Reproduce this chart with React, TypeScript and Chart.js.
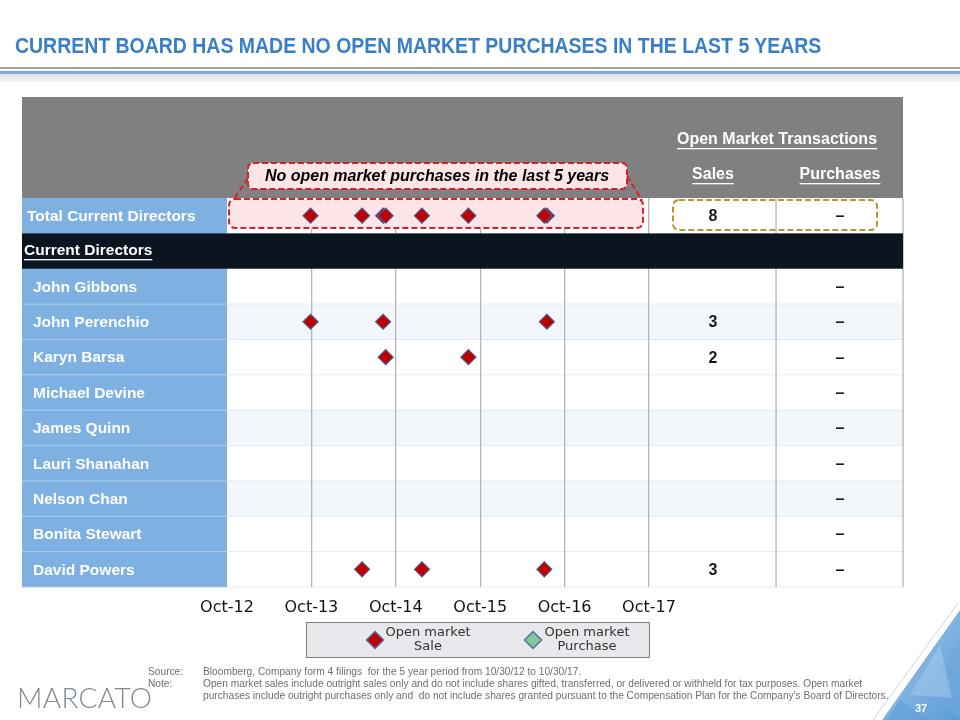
import React, { useEffect, useRef } from "react";
import { Chart, registerables } from "chart.js";

Chart.register(...registerables);

// ---------- data ----------
const TICK_LABELS = ["Oct-12", "Oct-13", "Oct-14", "Oct-15", "Oct-16", "Oct-17"];
const TOTAL_LABEL = "Total Current Directors";
const SECTION_LABEL = "Current Directors";
const DIRECTORS = [
  "John Gibbons",
  "John Perenchio",
  "Karyn Barsa",
  "Michael Devine",
  "James Quinn",
  "Lauri Shanahan",
  "Nelson Chan",
  "Bonita Stewart",
  "David Powers",
];
// open market sale dates, in years after Oct-12
const SALES_GIBBONS: number[] = [];
const SALES_PERENCHIO = [0.99, 1.85, 3.79];
const SALES_BARSA = [1.88, 2.86];
const SALES_DEVINE: number[] = [];
const SALES_QUINN: number[] = [];
const SALES_SHANAHAN: number[] = [];
const SALES_CHAN: number[] = [];
const SALES_STEWART: number[] = [];
const SALES_POWERS = [1.6, 2.31, 3.76];
// open market purchases: none
const PURCHASES: number[] = [];
const SHADED_ROWS = ["John Perenchio", "James Quinn", "Nelson Chan"];
const LEGEND_SALE = ["Open market", "Sale"];
const LEGEND_PURCHASE = ["Open market", "Purchase"];
const CALLOUT_TEXT = "No open market purchases in the last 5 years";

const SALES_BY_DIRECTOR: number[][] = [
  SALES_GIBBONS,
  SALES_PERENCHIO,
  SALES_BARSA,
  SALES_DEVINE,
  SALES_QUINN,
  SALES_SHANAHAN,
  SALES_CHAN,
  SALES_STEWART,
  SALES_POWERS,
];
const ROW_LABELS = [TOTAL_LABEL, SECTION_LABEL, ...DIRECTORS];
const ALL_SALES = SALES_BY_DIRECTOR.flat();

const SALE_COLOR = "#c00000";
const PURCHASE_COLOR = "#86c79a";
const MARKER_BORDER = "#4a5a8c";

function roundRect(ctx: CanvasRenderingContext2D, x: number, y: number, w: number, h: number, r: number) {
  ctx.beginPath();
  ctx.moveTo(x + r, y);
  ctx.lineTo(x + w - r, y);
  ctx.arcTo(x + w, y, x + w, y + r, r);
  ctx.lineTo(x + w, y + h - r);
  ctx.arcTo(x + w, y + h, x + w - r, y + h, r);
  ctx.lineTo(x + r, y + h);
  ctx.arcTo(x, y + h, x, y + h - r, r);
  ctx.lineTo(x, y + r);
  ctx.arcTo(x, y, x + r, y, r);
  ctx.closePath();
}

function diamond(ctx: CanvasRenderingContext2D, cx: number, cy: number, r: number, fill: string, stroke: string) {
  ctx.beginPath();
  ctx.moveTo(cx - r, cy);
  ctx.lineTo(cx, cy - r);
  ctx.lineTo(cx + r, cy);
  ctx.lineTo(cx, cy + r);
  ctx.closePath();
  ctx.fillStyle = fill;
  ctx.fill();
  ctx.lineWidth = 1.5;
  ctx.strokeStyle = stroke;
  ctx.stroke();
}

function underlinedText(ctx: CanvasRenderingContext2D, text: string, x: number, y: number, align: CanvasTextAlign) {
  ctx.textAlign = align;
  ctx.textBaseline = "middle";
  ctx.fillText(text, x, y);
  const w = ctx.measureText(text).width;
  const x0 = align === "center" ? x - w / 2 : align === "right" ? x - w : x;
  ctx.fillRect(x0, y + 8, w, 1.3);
}

const LEFT = 22;
const SALES_MID = 713;
const COL_SPLIT = 776;
const PURCH_MID = 840;
const RIGHT = 903;
const HEADER_TOP = 97;

const tablePlugin = {
  id: "boardTable",
  beforeDraw(chart: any) {
    const { ctx, chartArea: ca, scales } = chart;
    const y = scales.y;
    const half = (y.getPixelForValue(1) - y.getPixelForValue(0)) / 2;
    ctx.save();
    ctx.fillStyle = "#808080";
    ctx.fillRect(LEFT, HEADER_TOP, RIGHT - LEFT, ca.top - HEADER_TOP);
    ROW_LABELS.forEach((lab, i) => {
      const cy = y.getPixelForValue(i);
      const t = cy - half;
      ctx.fillStyle = SHADED_ROWS.includes(lab) ? "#f3f7fc" : "#ffffff";
      ctx.fillRect(ca.left, t, RIGHT - ca.left, 2 * half);
      ctx.fillStyle = "#7eb1e1";
      ctx.fillRect(LEFT, t, ca.left - LEFT, 2 * half);
    });
    // row dividers
    for (let i = 3; i <= ROW_LABELS.length; i++) {
      const t = y.getPixelForValue(i - 1) + half;
      ctx.fillStyle = "#a9cbec";
      ctx.fillRect(LEFT, t - 0.5, ca.left - LEFT, 1);
      ctx.fillStyle = "#e4ebf3";
      ctx.fillRect(ca.left, t - 0.5, RIGHT - ca.left, 1);
    }
    ctx.restore();
  },
  beforeDatasetsDraw(chart: any) {
    const { ctx, chartArea: ca, scales } = chart;
    const y = scales.y;
    const half = (y.getPixelForValue(1) - y.getPixelForValue(0)) / 2;
    ctx.save();
    // column lines for the sales / purchases columns
    ctx.fillStyle = "#b5b5b5";
    ctx.fillRect(COL_SPLIT - 0.6, ca.top, 1.3, ca.bottom - ca.top);
    ctx.fillRect(RIGHT - 0.6, ca.top, 1.3, ca.bottom - ca.top);
    // section row
    const sy = y.getPixelForValue(1);
    ctx.fillStyle = "#0a1520";
    ctx.fillRect(LEFT, sy - half, RIGHT - LEFT, 2 * half);

    // pink dashed box on total row
    const ty = y.getPixelForValue(0);
    ctx.setLineDash([6, 3]);
    ctx.lineWidth = 2;
    ctx.strokeStyle = "#d2222b";
    ctx.fillStyle = "#fde5e7";
    roundRect(ctx, ca.left + 2, ty - half + 1, 414, 29, 6);
    ctx.fill();
    ctx.stroke();
    // callout
    roundRect(ctx, 248, 163, 379, 26, 5);
    ctx.fill();
    ctx.stroke();
    ctx.beginPath();
    ctx.moveTo(248, 178);
    ctx.lineTo(234, ty - half + 1);
    ctx.moveTo(627, 176);
    ctx.lineTo(642, ty - half + 2);
    ctx.stroke();
    // gold box
    ctx.strokeStyle = "#b8962c";
    roundRect(ctx, 673, ty - half + 2, 204, 30, 6);
    ctx.stroke();
    ctx.setLineDash([]);

    ctx.fillStyle = "#000";
    ctx.font = "italic bold 16px 'Liberation Sans', Arial, sans-serif";
    ctx.textAlign = "center";
    ctx.textBaseline = "middle";
    ctx.fillText(CALLOUT_TEXT, 437, 177);

    // header texts
    ctx.fillStyle = "#ffffff";
    ctx.font = "bold 16px 'Liberation Sans', Arial, sans-serif";
    underlinedText(ctx, "Open Market Transactions", 777, 140, "center");
    underlinedText(ctx, "Sales", SALES_MID, 175, "center");
    underlinedText(ctx, "Purchases", PURCH_MID, 175, "center");

    // row labels and counts
    ctx.font = "bold 15.5px 'Liberation Sans', Arial, sans-serif";
    ROW_LABELS.forEach((lab, i) => {
      const cy = y.getPixelForValue(i);
      ctx.fillStyle = "#ffffff";
      if (i === 1) {
        underlinedText(ctx, lab, 24, cy, "left");
        return;
      }
      ctx.textAlign = "left";
      ctx.textBaseline = "middle";
      ctx.fillText(lab, i === 0 ? 27 : 33, cy + 1);
      const n = i === 0 ? ALL_SALES.length : SALES_BY_DIRECTOR[i - 2].length;
      const p = i === 0 ? PURCHASES.length : 0;
      ctx.fillStyle = "#1a1a1a";
      ctx.textAlign = "center";
      ctx.font = "bold 16px 'Liberation Sans', Arial, sans-serif";
      if (n > 0) ctx.fillText(String(n), SALES_MID, cy + 1);
      ctx.fillText(p > 0 ? String(p) : "\u2013", PURCH_MID, cy + 1);
      ctx.font = "bold 15.5px 'Liberation Sans', Arial, sans-serif";
    });
    ctx.restore();
  },
  afterDraw(chart: any) {
    const { ctx, data } = chart;
    ctx.save();
    ctx.fillStyle = "#e8e8ed";
    ctx.fillRect(306, 622, 344, 36);
    ctx.strokeStyle = "#7f7f7f";
    ctx.lineWidth = 1;
    ctx.strokeRect(306.5, 622.5, 343, 35);
    const items = [
      { cx: 375, tx: 428, ds: data.datasets[0], lines: LEGEND_SALE },
      { cx: 533, tx: 587, ds: data.datasets[1], lines: LEGEND_PURCHASE },
    ];
    items.forEach((it) => {
      diamond(ctx, it.cx, 640, 8.5, it.ds.backgroundColor, "#4f6fa8");
      ctx.fillStyle = "#333";
      ctx.font = "13px 'DejaVu Sans', sans-serif";
      ctx.textAlign = "center";
      ctx.textBaseline = "middle";
      ctx.fillText(it.lines[0], it.tx, 633);
      ctx.fillText(it.lines[1], it.tx, 647);
    });
    ctx.restore();
  },
};

function BoardChart() {
  const ref = useRef<HTMLCanvasElement | null>(null);
  useEffect(() => {
    if (!ref.current) return;
    const saleData = [
      ...ALL_SALES.map((x) => ({ x, y: TOTAL_LABEL })),
      ...SALES_BY_DIRECTOR.flatMap((arr, i) => arr.map((x) => ({ x, y: DIRECTORS[i] }))),
    ];
    const purchaseData = PURCHASES.map((x) => ({ x, y: TOTAL_LABEL }));
    const chart = new Chart(ref.current, {
      type: "scatter",
      data: {
        datasets: [
          {
            label: "Open market Sale",
            data: saleData as any,
            pointStyle: "rectRot",
            pointRadius: 7.5,
            backgroundColor: SALE_COLOR,
            borderColor: MARKER_BORDER,
            borderWidth: 1.2,
          },
          {
            label: "Open market Purchase",
            data: purchaseData as any,
            pointStyle: "rectRot",
            pointRadius: 7.5,
            backgroundColor: PURCHASE_COLOR,
            borderColor: MARKER_BORDER,
            borderWidth: 1.2,
          },
        ],
      },
      options: {
        animation: false,
        responsive: false,
        maintainAspectRatio: false,
        layout: { padding: { left: LEFT, right: 311, top: 198, bottom: 103 } },
        plugins: { legend: { display: false }, tooltip: { enabled: false } },
        scales: {
          x: {
            type: "linear",
            min: 0,
            max: 5,
            afterFit: (s: any) => {
              s.height = 30;
            },
            ticks: {
              stepSize: 1,
              autoSkip: false,
              maxRotation: 0,
              padding: 11,
              color: "#111",
              font: { family: "'DejaVu Sans', sans-serif", size: 16 },
              callback: (v: any) => TICK_LABELS[Math.round(Number(v))] ?? "",
            },
            grid: {
              drawTicks: false,
              lineWidth: 1.3,
              color: (c: any) => (c.index === 0 ? "rgba(0,0,0,0)" : "#b5b5b5"),
            },
            border: { display: false },
          },
          y: {
            type: "category",
            labels: ROW_LABELS,
            offset: true,
            afterFit: (s: any) => {
              s.width = 205;
            },
            ticks: { display: false },
            grid: { display: false },
            border: { display: false },
          },
        },
      },
      plugins: [tablePlugin],
    });
    return () => chart.destroy();
  }, []);
  return <canvas ref={ref} width={960} height={720} style={{ position: "absolute", left: 0, top: 0 }} />;
}

export default function App() {
  const foot: React.CSSProperties = {
    position: "absolute",
    fontFamily: "'Liberation Sans', Arial, sans-serif",
    fontSize: 10.2,
    color: "#6f6f6f",
    whiteSpace: "nowrap",
    lineHeight: "11.5px",
  };
  return (
    <div style={{ position: "absolute", left: 0, top: 0, width: 960, height: 720, background: "#fff", overflow: "hidden" }}>
      <BoardChart />
      <div
        style={{
          position: "absolute",
          left: 15,
          top: 35,
          fontFamily: "'Liberation Sans', Arial, sans-serif",
          fontWeight: "bold",
          fontSize: 22.5,
          lineHeight: 1,
          color: "#3a7fc6",
          whiteSpace: "nowrap",
          transform: "scaleX(0.865)",
          transformOrigin: "0 0",
        }}
      >
        CURRENT BOARD HAS MADE NO OPEN MARKET PURCHASES IN THE LAST 5 YEARS
      </div>
      <div style={{ position: "absolute", left: 0, top: 67, width: 960, height: 1.5, background: "#a3a3a3" }} />
      <div style={{ position: "absolute", left: 0, top: 71, width: 960, height: 2.5, background: "#7eaad8" }} />
      <div style={{ position: "absolute", left: 0, top: 74, width: 960, height: 8, background: "linear-gradient(#e0e2e6, #f3f4f6)" }} />

      <div style={{ ...foot, left: 148, top: 666 }}>Source:</div>
      <div style={{ ...foot, left: 203, top: 666 }}>
        Bloomberg, Company form 4 filings&nbsp; for the 5 year period from 10/30/12 to 10/30/17.
      </div>
      <div style={{ ...foot, left: 148, top: 678 }}>Note:</div>
      <div style={{ ...foot, left: 203, top: 678 }}>
        Open market sales include outright sales only and do not include shares gifted, transferred, or delivered or withheld for tax purposes. Open market
        <br />
        purchases include outright purchases only and&nbsp; do not include shares granted pursuant to the Compensation Plan for the Company's Board of Directors.
      </div>
      <div
        style={{
          position: "absolute",
          left: 17,
          top: 683,
          fontFamily: "Lato, 'Open Sans', sans-serif",
          fontWeight: 300,
          fontSize: 28,
          letterSpacing: 0.3,
          color: "#7e8a95",
          lineHeight: 1,
        }}
      >
        MARCATO
      </div>
      <svg width={960} height={720} style={{ position: "absolute", left: 0, top: 0, pointerEvents: "none" }}>
        <defs>
          <linearGradient id="tri" x1="0" y1="0" x2="1" y2="1">
            <stop offset="0" stopColor="#a9cdee" />
            <stop offset="1" stopColor="#5a9ad6" />
          </linearGradient>
        </defs>
        <line x1={958} y1={603} x2={873} y2={720} stroke="#c5d8ec" strokeWidth={1} />
        <polygon points="960,610 882,720 960,720" fill="url(#tri)" />
        <polygon points="960,640 925,690 960,720" fill="#6fa8dc" opacity={0.6} />
        <polygon points="940,645 910,695 952,698" fill="#b7d5f0" opacity={0.4} />
        <polygon points="900,700 886,720 930,720" fill="#5f9cd8" opacity={0.6} />
        <text x={921} y={712} fill="#ffffff" fontFamily="'Liberation Sans', Arial, sans-serif" fontWeight="bold" fontSize={11} textAnchor="middle">
          37
        </text>
      </svg>
    </div>
  );
}
